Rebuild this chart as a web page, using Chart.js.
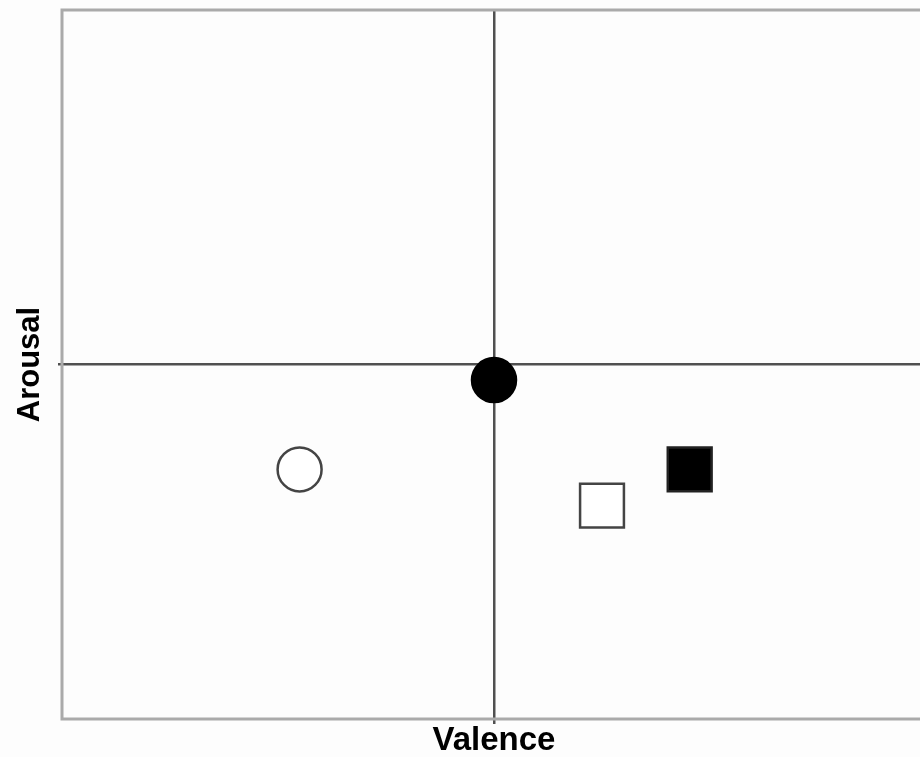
<!DOCTYPE html>
<html>
<head>
<meta charset="utf-8">
<script src="https://cdn.jsdelivr.net/npm/chart.js@4/dist/chart.umd.min.js"></script>
<style>
    html, body { margin: 0; padding: 0; background: #fdfdfd; overflow: hidden; }
    #wrap { width: 928px; height: 757px; }
</style>
</head>
<body>
<div id="wrap"><canvas id="affectChart"></canvas></div>
<script>
// one point per condition, positions
var conditions = ["Condition 1", "Condition 2", "Condition 3", "Condition 4"];
var valence = [0, -0.45, 0.25, 0.453];
var arousal = [-0.044, -0.296, -0.398, -0.296];
var axisTicks = [-1, 0, 1];

var markerStyle = ["circle", "circle", "rect", "rect"];
var markerRadius = [22, 22, 31, 31];
var markerFill = ["#000000", "#ffffff", "#ffffff", "#000000"];
var markerEdge = ["#000000", "#444444", "#444444", "#222222"];

var points = [];
conditions.forEach(function (name, i) {
    points.push({ x: valence[i], y: arousal[i] });
});

// grey frame round the plot area
var framePlugin = {
    id: "frame",
    beforeDatasetsDraw: function (chart) {
        var a = chart.chartArea;
        var ctx = chart.ctx;
        ctx.save();
        ctx.strokeStyle = "#aaaaaa";
        ctx.lineWidth = 3;
        ctx.strokeRect(a.left, a.top, a.right - a.left, a.bottom - a.top);
        ctx.restore();
    }
};

function centreLine(ctx) {
    return ctx.tick && ctx.tick.value === 0 ? "#505050" : "rgba(0,0,0,0)";
}

var chartElement = document.getElementById("affectChart").getContext("2d");
var chartObject = new Chart(chartElement, {
    type: "scatter",
    data: {
        labels: conditions,
        datasets: [{
            label: "Conditions",
            data: points,
            pointStyle: markerStyle,
            pointRadius: markerRadius,
            pointHoverRadius: markerRadius,
            backgroundColor: markerFill,
            borderColor: markerEdge,
            pointBorderWidth: 2.5,
            clip: false
        }]
    },
    options: {
        responsive: true,
        maintainAspectRatio: false,
        animation: false,
        layout: { autoPadding: false, padding: { top: 10, right: 2, left: 0, bottom: 0 } },
        plugins: {
            legend: { display: false },
            tooltip: { enabled: false }
        },
        scales: {
            x: {
                type: "linear",
                min: -1,
                max: 1,
                afterBuildTicks: function (scale) {
                    scale.ticks = axisTicks.map(function (v) { return { value: v }; });
                },
                afterFit: function (scale) { scale.height = 38; },
                ticks: { display: false },
                border: { display: false },
                grid: { color: centreLine, lineWidth: 2.5, drawTicks: true, tickLength: 5 },
                title: {
                    display: true,
                    text: "Valence",
                    color: "#000000",
                    padding: { top: 0, bottom: 0 },
                    font: { family: "Liberation Sans, Arial, sans-serif", size: 33, weight: "bold", lineHeight: 1 }
                }
            },
            y: {
                type: "linear",
                min: -1,
                max: 1,
                afterBuildTicks: function (scale) {
                    scale.ticks = axisTicks.map(function (v) { return { value: v }; });
                },
                afterFit: function (scale) { scale.width = 62; },
                ticks: { display: false },
                border: { display: false },
                grid: { color: centreLine, lineWidth: 2.5, drawTicks: true, tickLength: 4 },
                title: {
                    display: true,
                    text: "Arousal",
                    color: "#000000",
                    padding: { top: 15, bottom: 0 },
                    font: { family: "Liberation Sans, Arial, sans-serif", size: 31, weight: "bold", lineHeight: 1 }
                }
            }
        }
    },
    plugins: [framePlugin]
});
</script>
</body>
</html>
